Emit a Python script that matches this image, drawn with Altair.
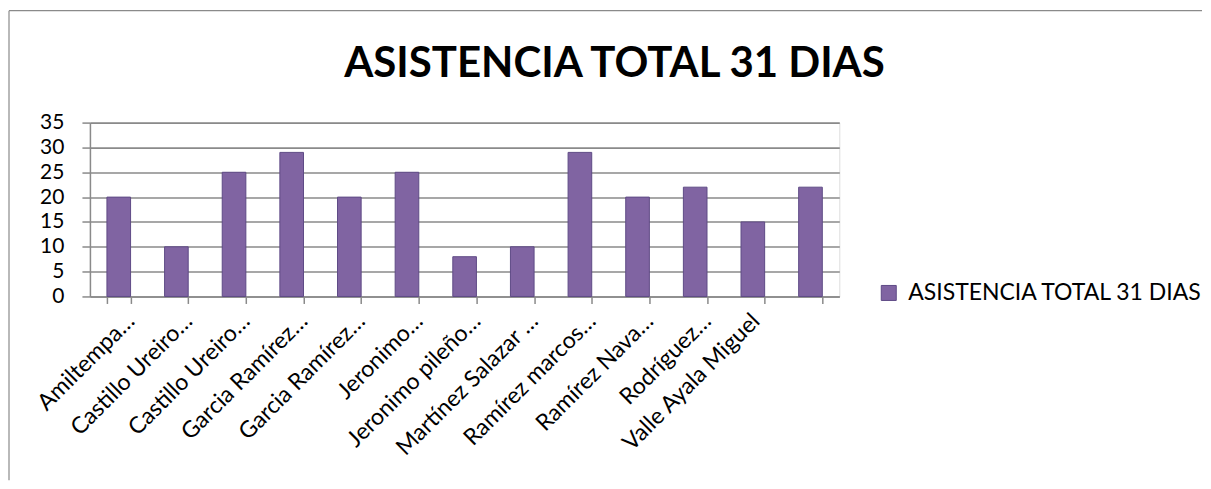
import altair as alt
import pandas as pd

# ---- data ----
labels = [
    "Amiltempa…",
    "Castillo Ureiro…",
    "Castillo Ureiro…",
    "Garcia Ramírez…",
    "Garcia Ramírez…",
    "Jeronimo…",
    "Jeronimo pileño…",
    "Martínez Salazar …",
    "Ramírez marcos…",
    "Ramírez Nava…",
    "Rodríguez…",
    "Valle Ayala Miguel",
    "",
]
values = [20, 10, 25, 29, 20, 25, 8, 10, 29, 20, 22, 15, 22]
series = "ASISTENCIA TOTAL 31 DIAS"
y_ticks = [0, 5, 10, 15, 20, 25, 30, 35]

df = pd.DataFrame({"idx": list(range(len(values))), "valor": values, "serie": [series] * len(values)})

label_expr = "[" + ",".join("'" + l + "'" for l in labels) + "][datum.value]"

GRAY = "#8a8a8a"
FONT = "Lato"

bars = alt.Chart(df).mark_bar(stroke="#5E4A86", strokeWidth=1).encode(
    x=alt.X(
        "idx:O",
        scale=alt.Scale(paddingInner=0.59, paddingOuter=0.295),
        axis=alt.Axis(
            title=None,
            labelExpr=label_expr,
            labelAngle=-45,
            labelFontSize=23,
            labelFont=FONT,
            labelColor="black",
            labelOffset={"condition": {"test": "datum.value === 11", "value": -5}, "value": 4},
            labelPadding=6,
            labelLimit=500,
            labelOverlap=False,
            tickBand="extent",
            tickSize=7,
            tickColor=GRAY,
            tickWidth=1.5,
            domainColor=GRAY,
            domainWidth=1.5,
            grid=False,
        ),
    ),
    y=alt.Y(
        "valor:Q",
        scale=alt.Scale(domain=[0, 35]),
        axis=alt.Axis(
            title=None,
            values=y_ticks,
            grid=True,
            gridColor=GRAY,
            gridWidth=1.6,
            tickColor=GRAY,
            tickWidth=1.5,
            tickSize=8,
            domainColor=GRAY,
            domainWidth=1.5,
            labelFontSize=21,
            labelFont=FONT,
            labelColor="black",
            labelPadding=18,
        ),
    ),
    color=alt.Color(
        "serie:N",
        scale=alt.Scale(range=["#8064A2"]),
        legend=alt.Legend(
            title=None,
            orient="none",
            legendX=788,
            legendY=159,
            symbolType="square",
            symbolSize=225,
            symbolStrokeColor="#5E4A86",
            symbolStrokeWidth=1,
            labelFontSize=23,
            labelFont=FONT,
            labelColor="black",
            labelOffset=8,
            labelLimit=500,
        ),
    ),
)

frame_df = pd.DataFrame({"k": [0]})
top_border = alt.Chart(frame_df).mark_rule(color=GRAY, strokeWidth=1.2).encode(
    x=alt.value(-81), x2=alt.value(1113), y=alt.value(-112)
)
left_border = alt.Chart(frame_df).mark_rule(color=GRAY, strokeWidth=1.2).encode(
    x=alt.value(-81), y=alt.value(-112), y2=alt.value(358)
)

chart = alt.layer(bars, top_border, left_border).properties(
    width=750,
    height=174,
    padding={"left": 0, "top": 1.5, "right": 0, "bottom": 0},
    title=alt.Title(
        "ASISTENCIA TOTAL 31 DIAS",
        font=FONT,
        fontSize=42,
        fontWeight="bold",
        color="black",
        anchor="middle",
        dx=150,
        offset=-109,
        baseline="alphabetic",
    ),
).configure_view(fill="#ECEAF1", stroke="transparent").configure(background="white")

chart.save("out.html", embed_options={"renderer": "svg", "actions": False})
